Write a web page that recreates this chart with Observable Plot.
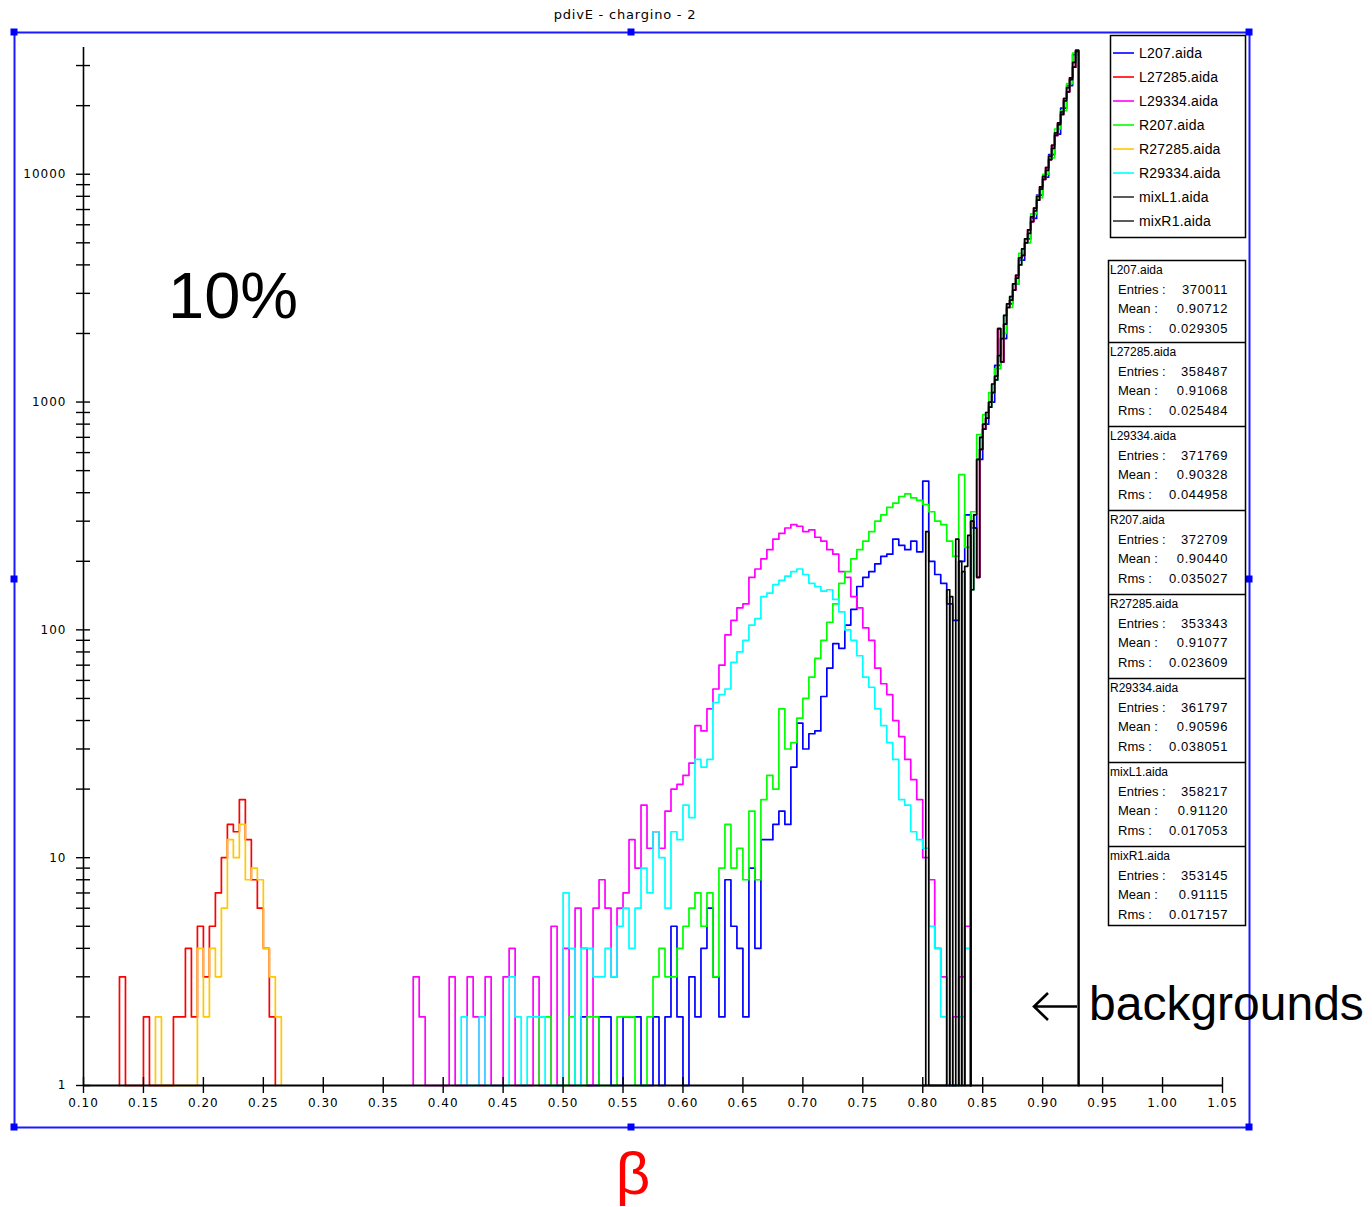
<!DOCTYPE html>
<html>
<head>
<meta charset="utf-8">
<script src="https://cdn.jsdelivr.net/npm/d3@7"></script>
<script src="https://cdn.jsdelivr.net/npm/@observablehq/plot@0.6"></script>
<style>
  body { margin: 0; background: #fff; }
  svg { display: block; }
  g[aria-label="x-axis tick label"], g[aria-label="y-axis tick label"] { letter-spacing: 1px; }
</style>
</head>
<body>
<script>
// ---------- data ----------
const seriesNames = ["L207.aida", "L27285.aida", "L29334.aida", "R207.aida", "R27285.aida", "R29334.aida", "mixL1.aida", "mixR1.aida"];
const seriesColors = ["#0000ff", "#ff0000", "#ff00ff", "#00ff00", "#ffc800", "#00ffff", "#000000", "#000000"];

const binWidth = 0.005;      // coloured histograms
const fineBinWidth = 0.0025; // mix histograms

// L207 (blue), bins from 0.515
const L207Start = 0.515;
const L207Counts = [
  2,0,0,2,2,0,0,2,2,2,
  0,0,2,0,2,5,2,0,3,2,
  4,6,3,2,8,5,4,2,9,4,
  12,12,14,16,14,25,39,30,35,36,
  51,68,87,83,105,123,155,170,180,195,
  210,215,250,235,225,245,220,450,200,175,
  160,130,110,200,320,280,560,800,1000,1450,
  1900,2700,3300,4200,5200,6400,8100,9700,12200,15000,
  19500,24500,33500
];

// L27285 (red), low part from 0.130
const L27285Start = 0.130;
const L27285Counts = [3,0,0,0,2,0,0,0,0,2,2,4,2,5,3,5,7,10,14,13,18,12,8,6,4,2];

// L29334 (magenta), bins from 0.375
const L29334Start = 0.375;
const L29334Counts = [
  3,2,0,0,0,0,3,0,0,3,
  2,0,3,0,0,3,4,0,0,0,
  3,0,0,5,0,4,0,6,4,0,
  6,8,6,3,6,7,12,9,17,11,
  13,11,16,20,21,23,26,38,36,45,
  55,70,95,110,125,130,170,185,205,225,
  250,265,280,290,285,270,275,255,245,225,
  215,180,170,140,125,102,90,68,58,52,
  40,34,27,22,18,10,8,4,3,0,
  2,3,5
];

// R207 (green), bins from 0.480
const R207Start = 0.480;
const R207Counts = [
  2,2,0,0,0,2,0,0,2,2,
  0,0,0,2,2,2,0,0,2,3,
  4,3,3,4,5,6,7,5,7,3,
  9,14,9,11,8,16,8,18,23,20,
  45,30,32,41,50,62,75,90,108,130,
  160,180,205,225,245,270,300,320,345,360,
  385,395,380,370,355,330,300,290,245,210,
  480,230,330,720,880,1100,1400,2000,2600,3300,
  4500,5000,6700,7900,10000,11800,15800,19000,25000,34000
];

// R27285 (orange), low part from 0.160
const R27285Start = 0.160;
const R27285Counts = [2,0,0,0,0,0,0,4,2,4,3,6,12,10,14,8,9,8,4,3,2];

// R29334 (cyan), bins from 0.415
const R29334Start = 0.415;
const R29334Counts = [
  2,0,0,2,0,0,0,0,3,2,
  0,2,2,2,0,0,0,7,4,0,
  4,4,3,3,4,3,5,6,4,6,
  9,7,13,10,6,13,12,17,15,27,
  25,27,48,52,55,72,80,90,105,112,
  140,145,158,165,172,180,185,175,160,155,
  148,150,136,120,100,90,77,62,56,45,
  38,32,27,18,17,13,12,11,5,4,
  2,0,0,2,4
];

// mixL1 (black), fine bins
const mixLowStart = 0.800;
const mixL1Low = [0,270,0,0,0,0,0,0,150,0,0,250,0,180,0,0];
const mixTailStart = 0.840;
const mixL1Tail = [
  300,280,170,620,760,850,1000,1100,1300,2100,
  1500,2200,2600,2800,3100,3600,4300,4400,5000,5700,
  6200,7100,7700,8800,9500,10700,11600,13400,14800,16800,
  18300,21500,23000,26500,29500,35000
];
// mixR1 (black), fine bins
const mixR1Low = [0,0,0,0,0,0,0,0,0,140,0,0,200,0,190,260];
const mixR1Tail = [
  150,320,560,700,800,900,950,1200,1250,1600,
  1900,2400,2700,2900,3300,3500,4000,4700,5200,5500,
  6500,6900,8000,8600,9800,10400,12000,13000,15200,16500,
  18800,21000,24000,26000,31000,34500
];

const xTickValues = [0.10,0.15,0.20,0.25,0.30,0.35,0.40,0.45,0.50,0.55,0.60,0.65,0.70,0.75,0.80,0.85,0.90,0.95,1.00,1.05];
const yLabelValues = [1, 10, 100, 1000, 10000];
const yMinorMultipliers = [1,2,3,4,5,6,7,8,9];
const yDomain = [1, 36000];
const xDomain = [0.10, 1.05];

const statsEntries = ["370011", "358487", "371769", "372709", "353343", "361797", "358217", "353145"];
const statsMeans   = ["0.90712", "0.91068", "0.90328", "0.90440", "0.91077", "0.90596", "0.91120", "0.91115"];
const statsRms     = ["0.029305", "0.025484", "0.044958", "0.035027", "0.023609", "0.038051", "0.017053", "0.017157"];

const titleText = "pdivE - chargino - 2";

// ---------- build step outlines (one piece per data segment) ----------
function buildSteps(segments) {
  const pts = [];
  segments.forEach((s, k) => {
    s.counts.forEach((c, i) => {
      const lo = Math.round((s.start + i * s.width) * 10000) / 10000;
      if (i === 0) pts.push({x: lo, y: 1, z: k});
      pts.push({x: lo, y: Math.max(c, 1), z: k});
    });
    const hi = Math.round((s.start + s.counts.length * s.width) * 10000) / 10000;
    pts.push({x: hi, y: 1, z: k});
  });
  return pts;
}

const seriesSegments = [
  [{start: L207Start, width: binWidth, counts: L207Counts}],
  [{start: L27285Start, width: binWidth, counts: L27285Counts}, {start: mixTailStart, width: fineBinWidth, counts: mixL1Tail}],
  [{start: L29334Start, width: binWidth, counts: L29334Counts}, {start: mixTailStart, width: fineBinWidth, counts: mixL1Tail}],
  [{start: R207Start, width: binWidth, counts: R207Counts}],
  [{start: R27285Start, width: binWidth, counts: R27285Counts}, {start: mixTailStart, width: fineBinWidth, counts: mixR1Tail}],
  [{start: R29334Start, width: binWidth, counts: R29334Counts}, {start: mixTailStart, width: fineBinWidth, counts: mixR1Tail}],
  [{start: mixLowStart, width: fineBinWidth, counts: mixL1Low}, {start: mixTailStart, width: fineBinWidth, counts: mixL1Tail}],
  [{start: mixLowStart, width: fineBinWidth, counts: mixR1Low}, {start: mixTailStart, width: fineBinWidth, counts: mixR1Tail}]
];

const yTickValues = [];
for (const d of yLabelValues) for (const m of yMinorMultipliers) if (m * d <= yDomain[1]) yTickValues.push(m * d);

const lineMarks = seriesSegments.map((segs, i) =>
  Plot.line(buildSteps(segs), {x: "x", y: "y", z: "z", curve: "step-after", stroke: seriesColors[i], strokeWidth: 1.7})
);

const svg = Plot.plot({
  width: 1372,
  height: 1207,
  marginLeft: 83,
  marginRight: 150,
  marginTop: 47,
  marginBottom: 122,
  style: {fontFamily: "DejaVu Sans", fontSize: "12px", color: "black", background: "white", overflow: "visible"},
  x: {domain: xDomain, label: null},
  y: {type: "log", domain: yDomain, label: null},
  marks: [
    ...lineMarks,
    Plot.ruleY([1], {stroke: "black", strokeWidth: 2}),
    Plot.ruleX([0.10], {stroke: "black", strokeWidth: 1.6}),
    Plot.axisX({ticks: xTickValues, tickSize: 16, dy: -8, tickPadding: 5, tickFormat: d3.format(".2f"), label: null, fontSize: 12, strokeWidth: 1.4}),
    Plot.axisY({ticks: yTickValues, tickSize: 14, dx: 7, tickFormat: () => "", label: null, strokeWidth: 1.4}),
    Plot.axisY({ticks: yLabelValues, tickSize: 0, tickPadding: 17, tickFormat: d3.format("d"), label: null, fontSize: 12})
  ]
});
document.body.append(svg);

// ---------- decorations ----------
const root = d3.select(svg).append("g").attr("text-anchor", "start");

// title
root.append("text").attr("x", 625).attr("y", 19).attr("text-anchor", "middle")
  .attr("font-family", "DejaVu Sans").attr("font-size", 13).attr("letter-spacing", 0.8).text(titleText);

// blue selection frame with handles
root.append("rect").attr("x", 14.5).attr("y", 32.5).attr("width", 1235).attr("height", 1095)
  .attr("fill", "none").attr("stroke", "#1a1aff").attr("stroke-width", 2);
const handles = [[14,32],[631,32],[1249,32],[14,579],[1249,579],[14,1127],[631,1127],[1249,1127]];
root.selectAll("rect.h").data(handles).join("rect").attr("class", "h")
  .attr("x", d => d[0] - 3.5).attr("y", d => d[1] - 3.5).attr("width", 7).attr("height", 7).attr("fill", "#0000ff");

// legend
const lg = root.append("g").attr("font-family", "Liberation Sans").attr("font-size", 14).attr("text-anchor", "start");
lg.append("rect").attr("x", 1110.5).attr("y", 35.5).attr("width", 135).attr("height", 202)
  .attr("fill", "white").attr("stroke", "black").attr("stroke-width", 1.5);
seriesNames.forEach((n, i) => {
  const y = 53 + i * 24;
  lg.append("line").attr("x1", 1113).attr("x2", 1134).attr("y1", y).attr("y2", y)
    .attr("stroke", i >= 6 ? "#333" : seriesColors[i]).attr("stroke-width", 1.6);
  lg.append("text").attr("x", 1139).attr("y", y + 5).attr("letter-spacing", 0.2).text(n);
});

// statistics boxes
const boxTops = [260, 342, 426, 510, 594, 678, 762, 846];
const boxBottom = 925;
const st = root.append("g").attr("font-family", "Liberation Sans").attr("font-size", 13).attr("text-anchor", "start");
st.append("rect").attr("x", 1108.5).attr("y", boxTops[0] + 0.5).attr("width", 137).attr("height", boxBottom - boxTops[0])
  .attr("fill", "white").attr("stroke", "black").attr("stroke-width", 1.5);
seriesNames.forEach((n, i) => {
  const t = boxTops[i];
  if (i > 0) st.append("line").attr("x1", 1108.5).attr("x2", 1245.5).attr("y1", t + 0.5).attr("y2", t + 0.5)
    .attr("stroke", "black").attr("stroke-width", 1.5);
  st.append("text").attr("x", 1110).attr("y", t + 14).attr("font-size", 12).text(n);
  const rows = [["Entries :", statsEntries[i]], ["Mean :", statsMeans[i]], ["Rms :", statsRms[i]]];
  rows.forEach((r, j) => {
    const y = t + 34 + j * 19.3;
    st.append("text").attr("x", 1118).attr("y", y).text(r[0]);
    st.append("text").attr("x", 1228).attr("y", y).attr("text-anchor", "end").attr("letter-spacing", 0.6).text(r[1]);
  });
});

// big annotations
root.append("text").attr("x", 168).attr("y", 318).attr("font-family", "Liberation Sans")
  .attr("font-size", 65).attr("fill", "black").text("10%");

root.append("path").attr("d", "M1077,1006.5 L1034,1006.5 M1048,993 L1034,1006.5 L1048,1020")
  .attr("fill", "none").attr("stroke", "black").attr("stroke-width", 2.6);
root.append("text").attr("x", 1089).attr("y", 1020).attr("font-family", "Liberation Sans")
  .attr("font-size", 48).attr("fill", "black").text("backgrounds");

root.append("text").attr("x", 633).attr("y", 1194).attr("text-anchor", "middle").attr("font-family", "Liberation Sans")
  .attr("font-size", 60).attr("fill", "#ff0000").text("β");
</script>
</body>
</html>
